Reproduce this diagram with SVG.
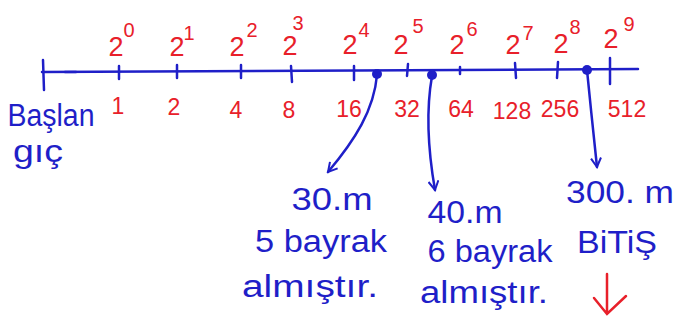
<svg xmlns="http://www.w3.org/2000/svg" width="677" height="322" viewBox="0 0 677 322">
<defs>
<style>
.b{fill:#1f1fc8;font-family:"Liberation Sans",sans-serif;font-size:31px;text-anchor:middle}
.r{fill:#e8202a;font-family:"Liberation Sans",sans-serif;font-size:27px;text-anchor:middle}
.rs{fill:#e8202a;font-family:"Liberation Sans",sans-serif;font-size:20px;text-anchor:middle}
.rl{fill:#e8202a;font-family:"Liberation Sans",sans-serif;font-size:23px;text-anchor:middle}
.ln{stroke:#1f1fc8;stroke-width:2.5;fill:none;stroke-linecap:round}
</style>
<marker id="ah" viewBox="0 0 12 12" refX="10" refY="6" markerWidth="12" markerHeight="12" markerUnits="userSpaceOnUse" orient="auto">
<path d="M1,1 L10,6 L1,11" fill="none" stroke="#1f1fc8" stroke-width="2"/>
</marker>
</defs>
<rect width="677" height="322" fill="#fff"/>
<g id="axis">
<path class="ln" d="M42,72 L638,69"/>
<path class="ln" d="M43,60 L44,90"/>
<path class="ln" d="M65,72 L76,72"/>
<path class="ln" d="M119,66 L119,79 M177,65 L177,78 M241,65 L241,78 M291,66 L292,82 M354,66 L354,80 M408,64 L407,76 M460,67 L460,74 M515,63 L516,78 M558,62 L557,78 M610,58 L610,84"/>
</g>
<g id="powers">
<text class="r" x="116" y="56">2</text><text class="rs" x="129" y="37">0</text>
<text class="r" x="177" y="56">2</text><text class="rs" x="189" y="40">1</text>
<text class="r" x="237" y="56">2</text><text class="rs" x="252" y="37">2</text>
<text class="r" x="290" y="55">2</text><text class="rs" x="298" y="30">3</text>
<text class="r" x="350" y="54">2</text><text class="rs" x="364" y="37">4</text>
<text class="r" x="401" y="54">2</text><text class="rs" x="418" y="33">5</text>
<text class="r" x="457" y="54">2</text><text class="rs" x="472" y="36">6</text>
<text class="r" x="513" y="54">2</text><text class="rs" x="528" y="40">7</text>
<text class="r" x="561" y="53">2</text><text class="rs" x="575" y="34">8</text>
<text class="r" x="611" y="48">2</text><text class="rs" x="629" y="31">9</text>
</g>
<g id="values">
<text class="rl" x="118" y="114">1</text>
<text class="rl" x="174" y="115">2</text>
<text class="rl" x="236" y="118">4</text>
<text class="rl" x="289" y="118">8</text>
<text class="rl" x="349" y="117">16</text>
<text class="rl" x="407" y="117">32</text>
<text class="rl" x="461" y="117">64</text>
<text class="rl" x="512" y="119">128</text>
<text class="rl" x="560" y="117">256</text>
<text class="rl" x="627" y="117">512</text>
</g>
<g id="start">
<text class="b" x="51" y="126" font-size="26" textLength="87" lengthAdjust="spacingAndGlyphs">Başlan</text>
<text class="b" x="38" y="162" font-size="26" textLength="50" lengthAdjust="spacingAndGlyphs">gıç</text>
</g>
<g id="connectors">
<path class="ln" d="M377,75 C374,110 355,140 328,172" marker-end="url(#ah)"/>
<path class="ln" d="M432,76 C426,110 428,150 435,190" marker-end="url(#ah)"/>
<path class="ln" d="M587,70 C590,100 594,140 597,167" marker-end="url(#ah)"/>
<circle cx="377" cy="74" r="5" fill="#1f1fc8"/>
<circle cx="432" cy="75" r="5" fill="#1f1fc8"/>
<circle cx="587" cy="70" r="5" fill="#1f1fc8"/>
</g>
<g id="m30">
<text class="b" x="332" y="210" textLength="81" lengthAdjust="spacingAndGlyphs">30.m</text>
<text class="b" x="321" y="252" textLength="132" lengthAdjust="spacingAndGlyphs">5 bayrak</text>
<text class="b" x="310" y="297" textLength="136" lengthAdjust="spacingAndGlyphs">almıştır.</text>
</g>
<g id="m40">
<text class="b" x="465" y="223" textLength="75" lengthAdjust="spacingAndGlyphs">40.m</text>
<text class="b" x="490" y="262" textLength="125" lengthAdjust="spacingAndGlyphs">6 bayrak</text>
<text class="b" x="484" y="303" textLength="128" lengthAdjust="spacingAndGlyphs">almıştır.</text>
</g>
<g id="m300">
<text class="b" x="620" y="203" textLength="108" lengthAdjust="spacingAndGlyphs">300. m</text>
<text class="b" x="617" y="253" textLength="80" lengthAdjust="spacingAndGlyphs">BiTiŞ</text>
<path d="M607,274 L607,313 M594,298 L607,314 L626,296" fill="none" stroke="#e8202a" stroke-width="2.5" stroke-linecap="round"/>
</g>
</svg>
